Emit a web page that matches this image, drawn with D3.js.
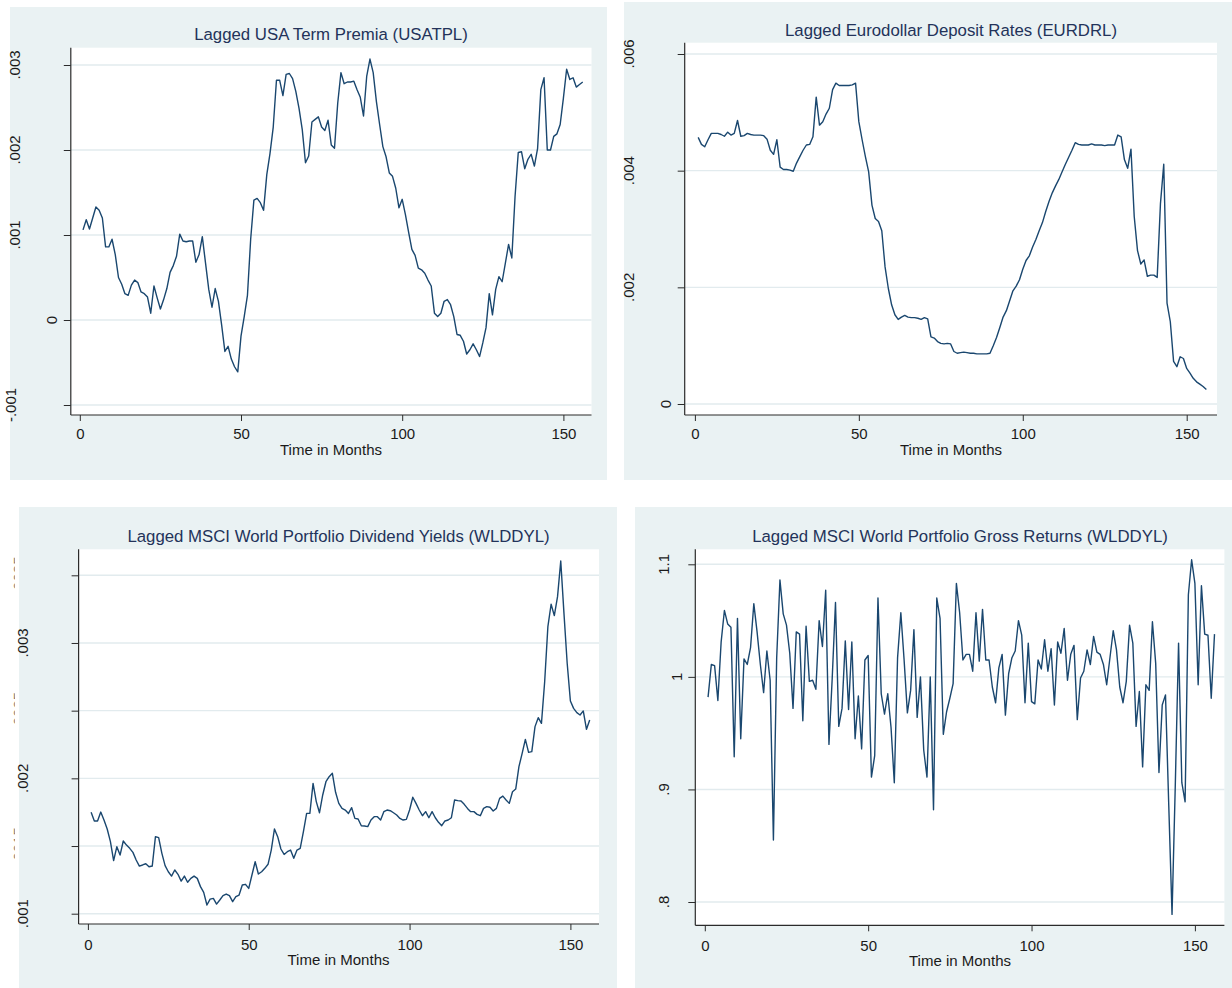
<!DOCTYPE html>
<html>
<head>
<meta charset="utf-8">
<script src="https://cdn.jsdelivr.net/npm/d3@7"></script>
<style>
  html, body { margin: 0; padding: 0; background: #ffffff; }
  svg { display: block; }
  text { font-family: "Liberation Sans", Arial, Helvetica, sans-serif; }
</style>
</head>
<body>
<svg id="chart" width="1232" height="988"></svg>
<script>
// ---------- data ----------
const months = d3.range(1, 157);

const usatpl = [
  .00106,.00118,.00107,.00120,.00133,.00129,.00120,.00086,.00086,.00095,
  .00077,.00050,.00042,.00031,.00029,.00041,.00047,.00044,.00033,.00031,
  .00027,.00008,.00040,.00026,.00013,.00024,.00037,.00056,.00064,.00075,
  .00101,.00093,.00092,.00093,.00093,.00068,.00077,.00098,.00067,.00036,
  .00015,.00037,.00022,-.00006,-.00037,-.00031,-.00046,-.00055,-.00061,-.00019,
  .00004,.00029,.00095,.00141,.00143,.00138,.00129,.00171,.00196,.00227,
  .00282,.00282,.00264,.00289,.00290,.00284,.00269,.00249,.00224,.00185,
  .00193,.00233,.00236,.00239,.00227,.00223,.00235,.00206,.00202,.00255,
  .00291,.00278,.00280,.00280,.00281,.00271,.00262,.00240,.00287,.00307,
  .00291,.00257,.00230,.00204,.00192,.00173,.00169,.00155,.00132,.00142,
  .00124,.00103,.00083,.00076,.00061,.00059,.00055,.00047,.00040,.00008,
  .00004,.00008,.00022,.00024,.00018,.00004,-.00017,-.00018,-.00025,-.00040,
  -.00035,-.00028,-.00035,-.00043,-.00027,-.00009,.00031,.00006,.00036,.00051,
  .00045,.00067,.00089,.00073,.00145,.00197,.00198,.00178,.00189,.00195,
  .00181,.00202,.00271,.00285,.00200,.00200,.00216,.00219,.00230,.00261,
  .00295,.00283,.00285,.00274,.00277,.00280
];

const eurdrl = [
  .00457,.00445,.00441,.00453,.00464,.00464,.00464,.00462,.00459,.00466,
  .00461,.00464,.00486,.00459,.00460,.00464,.00462,.00461,.00461,.00461,
  .00460,.00454,.00435,.00428,.00453,.00406,.00402,.00402,.00401,.00399,
  .00413,.00424,.00435,.00444,.00445,.00458,.00526,.00478,.00484,.00497,
  .00507,.00539,.00550,.00546,.00546,.00546,.00546,.00547,.00550,.00484,
  .00453,.00424,.00398,.00341,.00318,.00313,.00297,.00235,.00198,.00170,
  .00153,.00145,.00149,.00152,.00149,.00148,.00148,.00147,.00145,.00148,
  .00146,.00115,.00113,.00107,.00104,.00103,.00104,.00103,.00090,.00087,
  .00088,.00089,.00088,.00087,.00087,.00086,.00086,.00086,.00086,.00087,
  .00100,.00114,.00131,.00149,.00160,.00177,.00194,.00202,.00213,.00231,
  .00246,.00254,.00269,.00282,.00297,.00311,.00330,.00347,.00362,.00374,
  .00385,.00398,.00411,.00423,.00435,.00448,.00445,.00444,.00444,.00444,
  .00446,.00444,.00444,.00444,.00443,.00444,.00444,.00444,.00461,.00458,
  .00419,.00404,.00437,.00321,.00263,.00240,.00247,.00219,.00221,.00221,
  .00217,.00344,.00411,.00173,.00141,.00073,.00064,.00081,.00078,.00061,
  .00053,.00044,.00038,.00034,.00030,.00025
];

const wlddyl = [
  .001749,.001685,.001685,.001751,.001692,.001626,.001532,.001392,.001495,.001433,
  .001537,.001507,.001483,.001453,.001397,.001352,.001360,.001369,.001347,.001352,
  .001569,.001562,.001446,.001355,.001310,.001278,.001323,.001291,.001241,.001278,
  .001232,.001261,.001278,.001261,.001200,.001158,.001064,.001108,.001113,.001071,
  .001101,.001133,.001145,.001133,.001089,.001126,.001138,.001212,.001217,.001187,
  .001286,.001384,.001293,.001310,.001335,.001365,.001470,.001626,.001569,.001478,
  .001438,.001458,.001470,.001409,.001470,.001483,.001606,.001741,.001741,.001963,
  .001828,.001746,.001877,.001975,.002012,.002037,.001897,.001815,.001778,.001766,
  .001741,.001783,.001704,.001700,.001650,.001648,.001643,.001692,.001717,.001717,
  .001692,.001754,.001766,.001761,.001746,.001729,.001704,.001692,.001697,.001766,
  .001860,.001815,.001766,.001724,.001754,.001709,.001754,.001709,.001675,.001650,
  .001685,.001692,.001709,.001840,.001835,.001833,.001808,.001778,.001754,.001754,
  .001734,.001724,.001778,.001791,.001786,.001759,.001778,.001852,.001869,.001840,
  .001815,.001901,.001921,.002086,.002185,.002288,.002192,.002197,.002382,.002448,
  .002406,.002714,.003121,.003286,.003202,.003342,.003606,.003219,.002850,.002571,
  .002517,.002485,.002468,.002498,.002362,.002431
];

const wldgr = [
  .982,1.011,1.010,.979,1.031,1.059,1.047,1.044,.929,1.052,
  .945,1.016,1.011,1.026,1.065,1.040,1.011,.986,1.023,.997,
  .855,1.017,1.086,1.056,1.046,1.021,.972,1.040,1.038,.961,
  1.045,.996,.997,.989,1.050,1.027,1.077,.940,.999,1.066,
  .956,.972,1.032,.971,1.031,.945,.983,.936,1.015,1.019,
  .911,.930,1.070,.985,.967,.985,.955,.906,1.017,1.057,
  1.015,.968,.988,1.042,.964,1.000,.935,.911,1.000,.882,
  1.070,1.052,.949,.969,.981,.994,1.083,1.057,1.015,1.020,
  1.020,1.005,1.057,1.014,1.060,1.015,1.015,.991,.977,1.008,
  1.020,.966,1.003,1.017,1.023,1.050,1.037,.977,1.030,.978,
  .976,1.015,1.007,1.033,1.005,1.025,.975,1.031,1.021,1.043,
  .997,1.020,1.028,.962,.999,1.005,1.024,1.011,1.036,1.022,
  1.020,1.011,.993,1.017,1.041,1.024,.991,.977,.996,1.046,
  1.030,.956,.987,.920,.993,.988,1.049,1.012,.915,.975,
  .984,.886,.789,.904,1.030,.906,.889,1.073,1.104,1.083,
  .993,1.081,1.038,1.037,.981,1.038
];

const xTicks = [0, 50, 100, 150];
const xTitle = "Time in Months";

const titles = [
  "Lagged USA Term Premia (USATPL)",
  "Lagged Eurodollar Deposit Rates (EURDRL)",
  "Lagged MSCI World Portfolio Dividend Yields (WLDDYL)",
  "Lagged MSCI World Portfolio Gross Returns (WLDDYL)"
];

const usatplTicks  = [-0.001, 0, 0.001, 0.002, 0.003];
const usatplLabels = ["-.001", "0", ".001", ".002", ".003"];
const eurdrlTicks  = [0, 0.002, 0.004, 0.006];
const eurdrlLabels = ["0", ".002", ".004", ".006"];
const wlddylTicks  = [0.001, 0.0015, 0.002, 0.0025, 0.003, 0.0035];
const wlddylLabels = [".001", ".0015", ".002", ".0025", ".003", ".0035"];
const wlddylHidden = [".0015", ".0025", ".0035"];
const wldgrTicks   = [0.8, 0.9, 1, 1.1];
const wldgrLabels  = [".8", ".9", "1", "1.1"];

// ---------- layout ----------
const panels = [
  { series: usatpl, title: titles[0], ticks: usatplTicks, labels: usatplLabels, hidden: [],
    bg: [10, 7, 607, 480], plot: [70.8, 47.7, 591.5, 415],
    xr: [79.8, 563.4], yd: [-0.001, 0.003], yr: [405, 65],
    titleX: 331, titleY: 40, xtY: 454.5, xlY: 439.5 },
  { series: eurdrl, title: titles[1], ticks: eurdrlTicks, labels: eurdrlLabels, hidden: [],
    bg: [624, 2, 1232, 480], plot: [684.7, 42.7, 1217, 415],
    xr: [694.9, 1186.7], yd: [0, 0.006], yr: [404, 54],
    titleX: 951, titleY: 36, xtY: 454.5, xlY: 439.5 },
  { series: wlddyl, title: titles[2], ticks: wlddylTicks, labels: wlddylLabels, hidden: wlddylHidden,
    bg: [19, 507, 617, 988], plot: [78.6, 549.3, 599, 924],
    xr: [87.9, 570.4], yd: [0.001, 0.0035], yr: [913.7, 575.3],
    titleX: 338.5, titleY: 542, xtY: 964.5, xlY: 950 },
  { series: wldgr, title: titles[3], ticks: wldgrTicks, labels: wldgrLabels, hidden: [],
    bg: [635, 507, 1232, 988], plot: [695.3, 549.3, 1224.4, 925.3],
    xr: [704.8, 1194.9], yd: [0.8, 1.1], yr: [902, 564.3],
    titleX: 960, titleY: 542, xtY: 966, xlY: 951.5 }
];

const BG = "#eaf2f3", GRID = "#e2ebee", LINE = "#1a476f", AXIS = "#2b2b2b";
const TITLE_COL = "#23335a", TEXT_COL = "#1a1a1a";

// vertical tick-label column offset from the axis, by label length
function labelOffset(s) {
  if (s.length === 1) return 19;
  if (s.length <= 3) return 32;
  if (s.length === 4) return 56.5;
  return 60;
}

const svg = d3.select("#chart");
const defs = svg.append("defs");

panels.forEach((p, i) => {
  const g = svg.append("g");
  const [bx0, by0, bx1, by1] = p.bg;
  const [px0, py0, px1, py1] = p.plot;

  const x = d3.scaleLinear().domain([0, 150]).range(p.xr);
  const y = d3.scaleLinear().domain(p.yd).range(p.yr);

  // hidden, clipped labels (only the thin glyph tops show at far left)
  if (p.hidden.length) {
    defs.append("clipPath").attr("id", "clipHidden" + i)
      .append("rect").attr("x", 0).attr("y", by0).attr("width", 14.6).attr("height", by1 - by0);
    const hg = g.append("g").attr("clip-path", "url(#clipHidden" + i + ")");
    p.ticks.forEach((t, k) => {
      const lab = p.labels[k];
      if (!p.hidden.includes(lab)) return;
      hg.append("text")
        .attr("transform", `translate(${18.6},${y(t)}) rotate(-90)`)
        .attr("text-anchor", "middle").attr("dy", "0.36em")
        .attr("font-size", 15).attr("fill", TEXT_COL)
        .text(lab);
    });
  }

  g.append("rect").attr("x", bx0).attr("y", by0)
    .attr("width", bx1 - bx0).attr("height", by1 - by0).attr("fill", BG);
  g.append("rect").attr("x", px0).attr("y", py0)
    .attr("width", px1 - px0).attr("height", py1 - py0).attr("fill", "#ffffff");

  // gridlines
  g.selectAll(".grid").data(p.ticks).enter().append("line")
    .attr("x1", px0).attr("x2", px1)
    .attr("y1", d => y(d)).attr("y2", d => y(d))
    .attr("stroke", GRID).attr("stroke-width", 1.4);

  // series line
  const line = d3.line().x((d, k) => x(months[k])).y(d => y(d));
  g.append("path").datum(p.series)
    .attr("d", line).attr("fill", "none")
    .attr("stroke", LINE).attr("stroke-width", 1.4)
    .attr("stroke-linejoin", "round");

  // y axis: ticks via d3 axis, line spans full plot height
  const yAxis = d3.axisLeft(y).tickValues(p.ticks).tickSize(7).tickFormat("");
  const ya = g.append("g").attr("transform", `translate(${px0},0)`).call(yAxis);
  ya.select(".domain").remove();
  ya.selectAll(".tick line").attr("stroke", AXIS).attr("stroke-width", 1);
  g.append("line").attr("x1", px0).attr("x2", px0).attr("y1", py0).attr("y2", py1)
    .attr("stroke", AXIS).attr("stroke-width", 1.2);

  // y labels (rotated)
  p.ticks.forEach((t, k) => {
    const lab = p.labels[k];
    if (p.hidden.includes(lab)) return;
    g.append("text")
      .attr("transform", `translate(${px0 - labelOffset(lab)},${y(t)}) rotate(-90)`)
      .attr("text-anchor", "middle").attr("dy", "0.36em")
      .attr("font-size", 15).attr("fill", TEXT_COL)
      .text(lab);
  });

  // x axis
  const xAxis = d3.axisBottom(x).tickValues(xTicks).tickSize(6).tickSizeOuter(0)
    .tickPadding(p.xlY - py1 - 6 - 10.7).tickFormat(d3.format("d"));
  const xa = g.append("g").attr("transform", `translate(0,${py1})`).call(xAxis);
  xa.select(".domain").remove();
  xa.selectAll(".tick line").attr("stroke", AXIS).attr("stroke-width", 1);
  xa.selectAll(".tick text").attr("font-size", 15).attr("fill", TEXT_COL)
    .attr("font-family", "Liberation Sans, Arial, sans-serif");
  g.append("line").attr("x1", px0).attr("x2", px1).attr("y1", py1).attr("y2", py1)
    .attr("stroke", AXIS).attr("stroke-width", 1.2);

  // x title
  g.append("text").attr("x", p.titleX).attr("y", p.xtY)
    .attr("text-anchor", "middle").attr("font-size", 15).attr("fill", TEXT_COL)
    .text(xTitle);

  // panel title
  g.append("text").attr("x", p.titleX).attr("y", p.titleY)
    .attr("text-anchor", "middle").attr("font-size", 16.8).attr("fill", TITLE_COL)
    .text(p.title);
});
</script>
</body>
</html>
